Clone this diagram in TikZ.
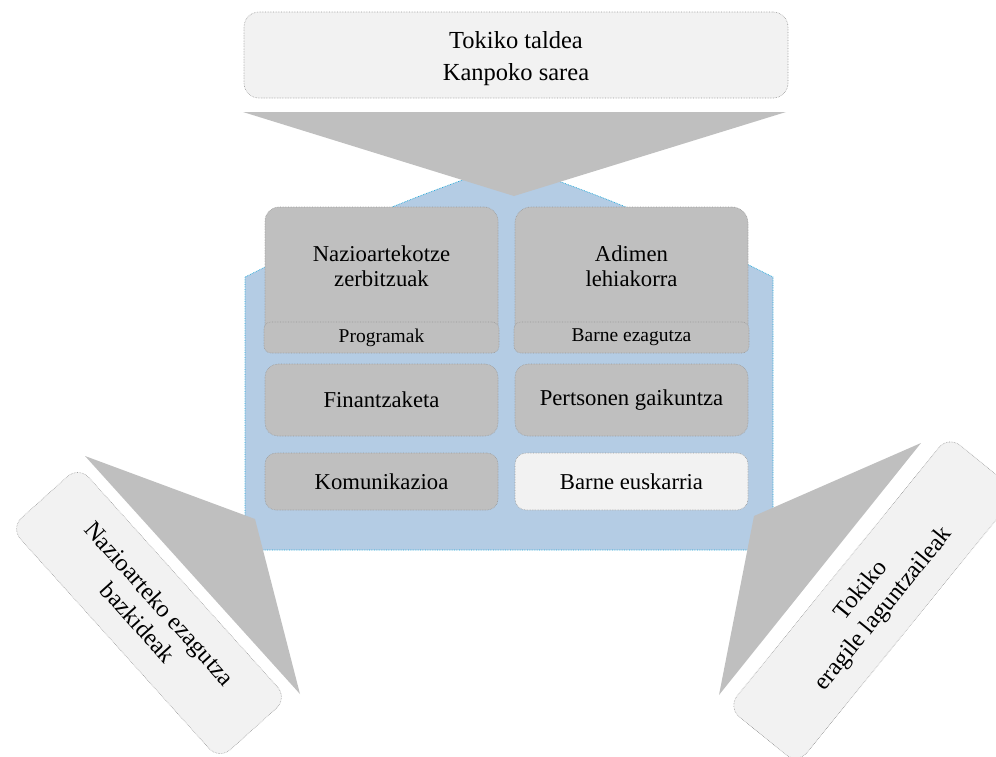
\documentclass[tikz,border=0pt]{standalone}
\usepackage{fontspec}
\setmainfont{Liberation Serif}
\definecolor{cGray}{HTML}{BFBFBF}
\definecolor{cLight}{HTML}{F2F2F2}
\definecolor{cBlue}{HTML}{B4CCE4}
\definecolor{cBlueLine}{HTML}{1AA7D9}
\definecolor{cLine}{HTML}{9A9A9A}
\begin{document}
\begin{tikzpicture}[x=1pt,y=-1pt,
  boxbase/.style={draw=cLine, densely dotted, line width=0.6pt, inner sep=0pt, align=center},
  graybox/.style={boxbase, fill=cGray},
  lightbox/.style={boxbase, fill=cLight},
  bigfont/.style={font=\fontsize{22.7}{25}\selectfont},
  smallfont/.style={font=\fontsize{19.5}{22}\selectfont},
  topfont/.style={font=\fontsize{24.5}{32}\selectfont},
  rotfont/.style={font=\fontsize{24.4}{29}\selectfont},
  wedge/.style={fill=cGray, draw=none},
  txt/.style={align=center, inner sep=0pt}
]
\useasboundingbox (0,0) rectangle (996,756);

% blue background shape
\draw[fill=cBlue, draw=cBlueLine, densely dotted, line width=0.7pt]
  (245,550) -- (245,277) .. controls (380,210) .. (509,163)
  .. controls (638,210) .. (773,277) -- (773,550) -- cycle;

% top box and wedge
\node[lightbox, rounded corners=15, minimum width=544, minimum height=86] (topbox) at (516,55) {};
\node[txt, topfont] (toptext) at (516,58.4) {Tokiko taldea\\Kanpoko sarea};
\fill[wedge] (243,112) -- (786,112) -- (514,196) -- cycle;

% left column
\node[graybox, rounded corners=14, minimum width=233, minimum height=143] (nazio) at (381.5,278.5) {};
\node[txt, bigfont] (naziot) at (381.5,266.5) {Nazioartekotze\\zerbitzuak};
\node[graybox, rounded corners=7, minimum width=235, minimum height=31, smallfont] (prog) at (381.5,337.5) {Programak};
\node[graybox, rounded corners=13, minimum width=233, minimum height=72, bigfont] (fin) at (381.5,400) {Finantzaketa};
\node[graybox, rounded corners=11, minimum width=233, minimum height=57, bigfont] (kom) at (381.5,481.5) {Komunikazioa};

% right column
\node[graybox, rounded corners=16, minimum width=233, minimum height=143] (adimen) at (631.5,278.5) {};
\node[txt, bigfont] (adiment) at (631.5,266.5) {Adimen\\lehiakorra};
\node[graybox, rounded corners=7, minimum width=235, minimum height=31, smallfont] (barnez) at (631.5,337.5) {Barne ezagutza};
\node[graybox, rounded corners=13, minimum width=233, minimum height=72, bigfont] (pert) at (631.5,400) {Pertsonen gaikuntza};
\node[lightbox, rounded corners=11, minimum width=233, minimum height=57, bigfont] (barneus) at (631.5,481.5) {Barne euskarria};

% side wedges
\fill[wedge] (85,456) -- (255,519) -- (300,694) -- cycle;
\fill[wedge] (921,443) -- (754,516) -- (719,695) -- cycle;

% side boxes
\node[lightbox, rounded corners=15, minimum width=312, minimum height=92, rotate=-48, rotfont] (lbox) at (149,613) {Nazioarteko ezagutza\\bazkideak};
\node[lightbox, rounded corners=15, minimum width=350, minimum height=90, rotate=50.9, rotfont] (rbox) at (873,600) {Tokiko\\eragile laguntzaileak};
\end{tikzpicture}
\end{document}
